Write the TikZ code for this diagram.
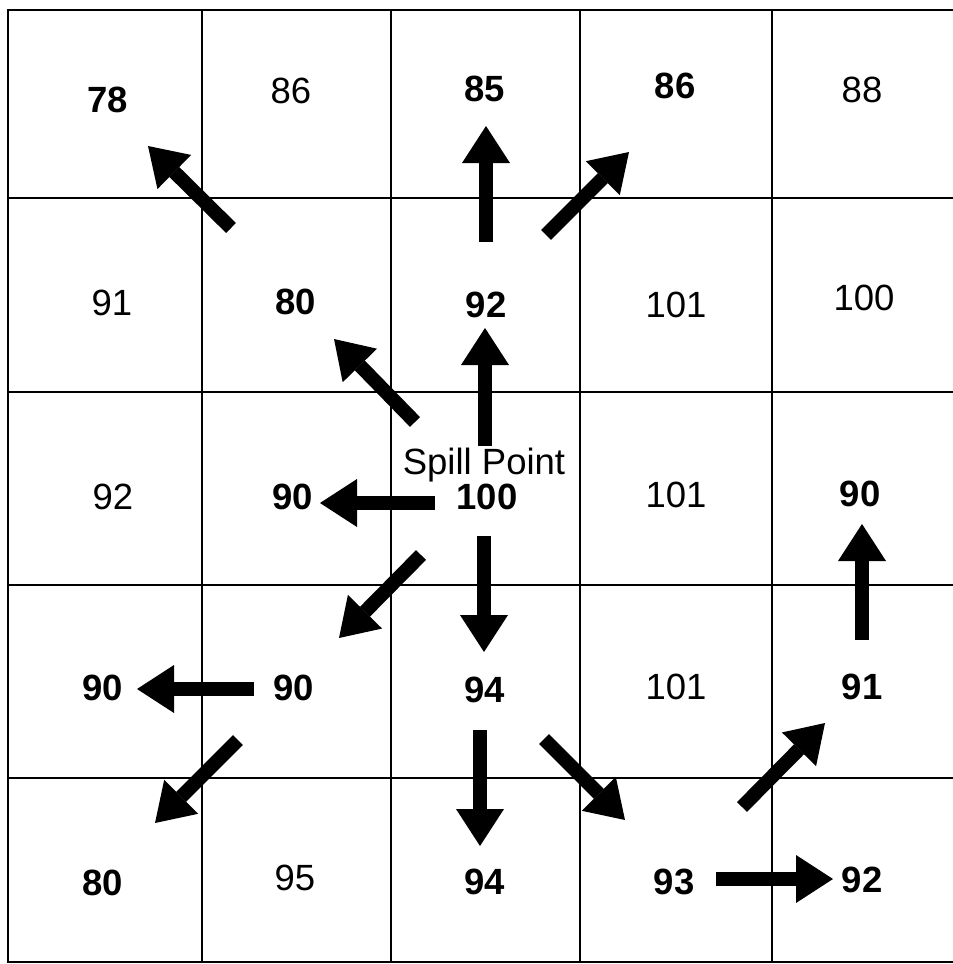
\documentclass[tikz,border=0pt]{standalone}
\usepackage{fontspec}
\setmainfont{Liberation Sans}
\usetikzlibrary{arrows.meta}
\begin{document}
\begin{tikzpicture}[x=1pt,y=-1pt,
  gridline/.style={line width=2.6pt,black},
  val/.style={font=\fontsize{36.5}{40}\selectfont,inner sep=0pt,anchor=center},
  bval/.style={val,font=\fontsize{36.5}{40}\selectfont\bfseries},
  blockarrow/.style={line width=14pt,-{Triangle[width=48pt,length=37pt,line width=0pt]}}]
\useasboundingbox (0,0) rectangle (953,964);
% grid
\draw[gridline] (956,10) -- (8,10) -- (8,962) -- (956,962);
\foreach \x in {202,391,580,772} \draw[gridline] (\x,10) -- (\x,962);
\foreach \y in {198,392,585,778} \draw[gridline] (8,\y) -- (956,\y);
% values
\node[bval] (a1) at (108,100) {78};
\node[val]  (a2) at (291,91) {86};
\node[bval] (a3) at (485,89) {85};
\node[bval] (a4) at (675,86) {86};
\node[val]  (a5) at (862,90) {88};
\node[val]  (b1) at (112,303) {91};
\node[bval] (b2) at (296,302) {80};
\node[bval] (b3) at (486,305) {92};
\node[val]  (b4) at (676,305) {101};
\node[val]  (b5) at (864,298) {100};
\node[val]  (c1) at (113,497) {92};
\node[bval] (c2) at (293,497) {90};
\node[val]  (sp) at (484,465) {Spill Point};
\node[bval] (c3) at (487,497) {100};
\node[val]  (c4) at (676,495) {101};
\node[bval] (c5) at (860,494) {90};
\node[bval] (d1) at (103,688) {90};
\node[bval] (d2) at (294,688) {90};
\node[bval] (d3) at (485,690) {94};
\node[val]  (d4) at (676,687) {101};
\node[bval] (d5) at (862,687) {91};
\node[bval] (e1) at (103,883) {80};
\node[val]  (e2) at (295,878) {95};
\node[bval] (e3) at (485,882) {94};
\node[bval] (e4) at (674,882) {93};
\node[bval] (e5) at (862,880) {92};
% arrow ends
\coordinate (t1) at (231,228); \coordinate (h1) at (148,146);
\coordinate (t2) at (486,242); \coordinate (h2) at (486,126);
\coordinate (t3) at (546,235); \coordinate (h3) at (629,152);
\coordinate (t4) at (415,422); \coordinate (h4) at (334,339);
\coordinate (t5) at (485,446); \coordinate (h5) at (485,328);
\coordinate (t6) at (435,503); \coordinate (h6) at (320,503);
\coordinate (t7) at (421,555); \coordinate (h7) at (339,638);
\coordinate (t8) at (484,536); \coordinate (h8) at (484,652);
\coordinate (t9) at (254,689); \coordinate (h9) at (137,689);
\coordinate (t10) at (238,740); \coordinate (h10) at (155,823);
\coordinate (t11) at (480,730); \coordinate (h11) at (480,846);
\coordinate (t12) at (544,739); \coordinate (h12) at (625,820);
\coordinate (t13) at (742,807); \coordinate (h13) at (825,723);
\coordinate (t14) at (716,879); \coordinate (h14) at (833,879);
\coordinate (t15) at (862,640); \coordinate (h15) at (862,524);
\foreach \i in {1,...,15} \draw[blockarrow] (t\i) -- (h\i);
\end{tikzpicture}
\end{document}
